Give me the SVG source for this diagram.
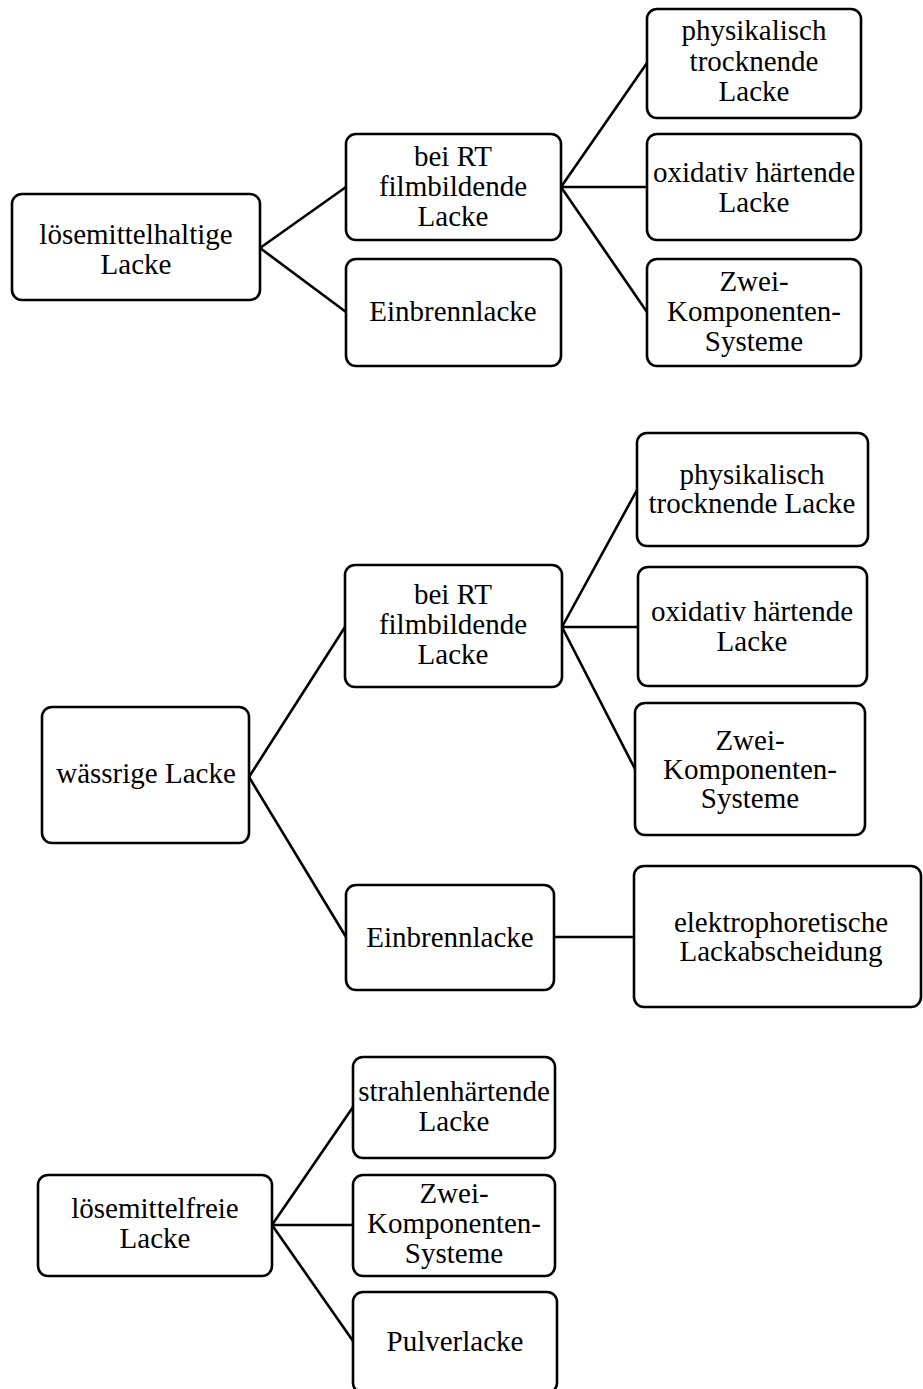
<svg xmlns="http://www.w3.org/2000/svg" width="923" height="1389" viewBox="0 0 923 1389">
<style>
.box{fill:#fff;stroke:#000;stroke-width:2.6}
.t{font-family:"Liberation Serif","Times New Roman",serif;font-size:29px;fill:#000;text-anchor:middle}
.c line{stroke:#000;stroke-width:2.6}
</style>
<rect width="923" height="1389" fill="#fff"/>
<g class="c" id="connectors">
<line x1="260" y1="248" x2="346" y2="187"/>
<line x1="260" y1="248" x2="346" y2="312"/>
<line x1="561" y1="187" x2="647" y2="63"/>
<line x1="561" y1="187" x2="647" y2="187"/>
<line x1="561" y1="187" x2="647" y2="312"/>
<line x1="249" y1="777" x2="345" y2="627"/>
<line x1="249" y1="777" x2="346" y2="937"/>
<line x1="562" y1="627" x2="637" y2="490"/>
<line x1="562" y1="627" x2="638" y2="627"/>
<line x1="562" y1="627" x2="635" y2="769"/>
<line x1="554" y1="937" x2="634" y2="937"/>
<line x1="272" y1="1225" x2="353" y2="1107"/>
<line x1="272" y1="1225" x2="353" y2="1225"/>
<line x1="272" y1="1225" x2="353" y2="1341"/>
</g>
<g id="A"><rect class="box" x="12" y="194" width="248" height="106" rx="10"/><text class="t" x="136" y="244">lösemittelhaltige</text><text class="t" x="136" y="274">Lacke</text></g>
<g id="B"><rect class="box" x="346" y="134" width="215" height="106" rx="10"/><text class="t" x="453" y="166">bei RT</text><text class="t" x="453" y="196">filmbildende</text><text class="t" x="453" y="226">Lacke</text></g>
<g id="C"><rect class="box" x="346" y="259" width="215" height="107" rx="10"/><text class="t" x="453" y="321">Einbrennlacke</text></g>
<g id="D"><rect class="box" x="647" y="9" width="214" height="109" rx="10"/><text class="t" x="754" y="40">physikalisch</text><text class="t" x="754" y="71">trocknende</text><text class="t" x="754" y="101">Lacke</text></g>
<g id="E"><rect class="box" x="647" y="134" width="214" height="106" rx="10"/><text class="t" x="754" y="182">oxidativ härtende</text><text class="t" x="754" y="212">Lacke</text></g>
<g id="F"><rect class="box" x="647" y="259" width="214" height="107" rx="10"/><text class="t" x="754" y="291">Zwei-</text><text class="t" x="754" y="321">Komponenten-</text><text class="t" x="754" y="351">Systeme</text></g>
<g id="G"><rect class="box" x="42" y="707" width="207" height="136" rx="10"/><text class="t" x="146" y="783">wässrige Lacke</text></g>
<g id="H"><rect class="box" x="345" y="565" width="217" height="122" rx="10"/><text class="t" x="453" y="604">bei RT</text><text class="t" x="453" y="634">filmbildende</text><text class="t" x="453" y="664">Lacke</text></g>
<g id="I"><rect class="box" x="637" y="433" width="231" height="113" rx="10"/><text class="t" x="752" y="484">physikalisch</text><text class="t" x="752" y="513">trocknende Lacke</text></g>
<g id="J"><rect class="box" x="638" y="567" width="229" height="119" rx="10"/><text class="t" x="752" y="621">oxidativ härtende</text><text class="t" x="752" y="651">Lacke</text></g>
<g id="K"><rect class="box" x="635" y="703" width="230" height="132" rx="10"/><text class="t" x="750" y="750">Zwei-</text><text class="t" x="750" y="779">Komponenten-</text><text class="t" x="750" y="808">Systeme</text></g>
<g id="L"><rect class="box" x="346" y="885" width="208" height="105" rx="10"/><text class="t" x="450" y="947">Einbrennlacke</text></g>
<g id="M"><rect class="box" x="634" y="866" width="287" height="141" rx="10"/><text class="t" x="781" y="932">elektrophoretische</text><text class="t" x="781" y="961">Lackabscheidung</text></g>
<g id="N"><rect class="box" x="38" y="1175" width="234" height="101" rx="10"/><text class="t" x="155" y="1218">lösemittelfreie</text><text class="t" x="155" y="1248">Lacke</text></g>
<g id="O"><rect class="box" x="353" y="1057" width="202" height="101" rx="10"/><text class="t" x="454" y="1101">strahlenhärtende</text><text class="t" x="454" y="1131">Lacke</text></g>
<g id="P"><rect class="box" x="353" y="1175" width="202" height="101" rx="10"/><text class="t" x="454" y="1203">Zwei-</text><text class="t" x="454" y="1233">Komponenten-</text><text class="t" x="454" y="1263">Systeme</text></g>
<g id="Q"><rect class="box" x="353" y="1292" width="204" height="101" rx="10"/><text class="t" x="455" y="1351">Pulverlacke</text></g>
</svg>
